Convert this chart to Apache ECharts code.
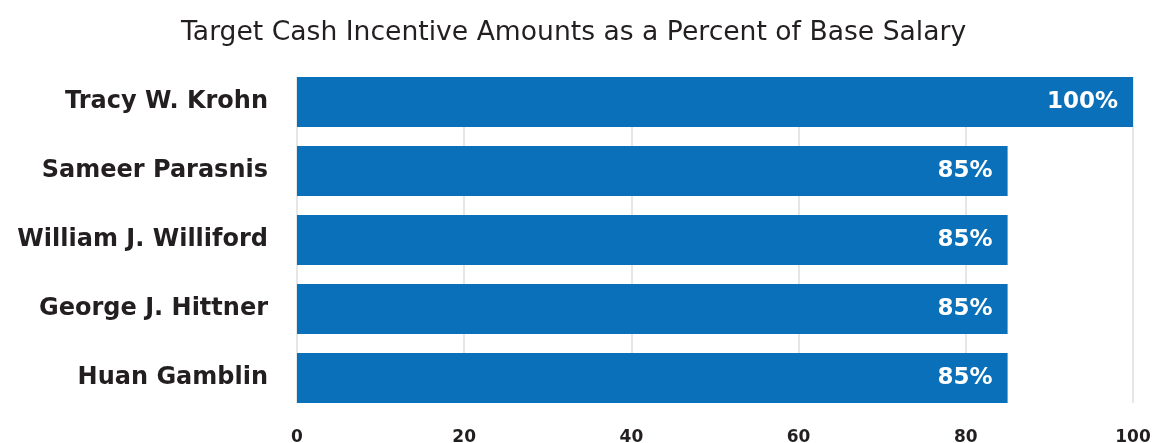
<!DOCTYPE html>
<html>
<head>
<meta charset="utf-8">
<script src="https://cdn.jsdelivr.net/npm/echarts@6/dist/echarts.min.js"></script>
<style>html,body{margin:0;padding:0;background:#fff}#c{width:1154px;height:443px}</style>
</head>
<body>
<div id="c"></div>
<script>
const titleText = 'Target Cash Incentive Amounts as a Percent of Base Salary';
const categories = ['Tracy W. Krohn', 'Sameer Parasnis', 'William J. Williford', 'George J. Hittner', 'Huan Gamblin'];
const values = [100, 85, 85, 85, 85];
const xTicks = [0, 20, 40, 60, 80, 100];

const FONT = '"DejaVu Sans", sans-serif';
const TXT = '#231f20';
const chart = echarts.init(document.getElementById('c'));
chart.setOption({
  animation: false,
  title: {
    text: titleText, left: 176, top: 15,
    textStyle: { fontFamily: FONT, fontSize: 26.6, fontWeight: 'normal', color: TXT }
  },
  grid: [
    { left: 297, right: 21, top: 67.5, height: 345, outerBoundsMode: 'none', containLabel: false },
    { left: 297, right: 21, top: 77, height: 326, outerBoundsMode: 'none', containLabel: false }
  ],
  xAxis: [
    { type: 'value', gridIndex: 0, min: xTicks[0], max: xTicks[xTicks.length - 1], interval: 20,
      axisLine: { show: false }, axisTick: { show: false }, splitLine: { show: false },
      axisLabel: { margin: 17, fontFamily: FONT, fontSize: 17, fontWeight: 'bold', color: TXT } },
    { type: 'value', gridIndex: 1, min: xTicks[0], max: xTicks[xTicks.length - 1], interval: 20,
      axisLine: { show: false }, axisTick: { show: false }, axisLabel: { show: false },
      splitLine: { show: true, lineStyle: { color: '#e6e6e6', width: 2 } } }
  ],
  yAxis: [
    { type: 'category', gridIndex: 0, data: categories, inverse: true,
      axisLine: { show: false }, axisTick: { show: false },
      axisLabel: { margin: 29, fontFamily: FONT, fontSize: 24, fontWeight: 'bold', color: TXT } },
    { type: 'category', gridIndex: 1, data: categories, inverse: true, show: false }
  ],
  series: [{
    type: 'bar', xAxisIndex: 0, yAxisIndex: 0, data: values, barWidth: 50,
    itemStyle: { color: '#0a70b9' },
    label: { show: true, position: 'insideRight', distance: 15, formatter: '{c}%',
      fontFamily: FONT, fontSize: 23, fontWeight: 'bold', color: '#fff' }
  }]
});
</script>
</body>
</html>
